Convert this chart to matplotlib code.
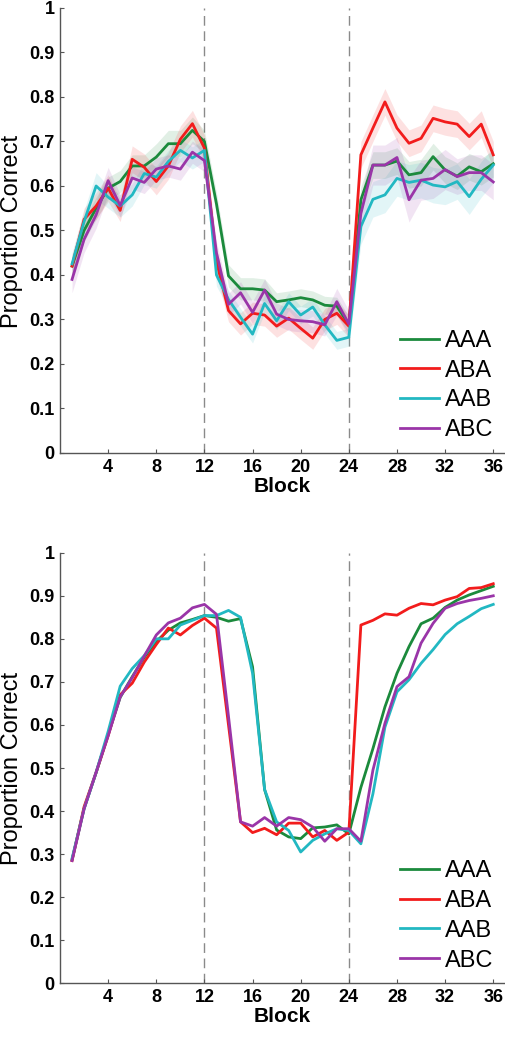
import numpy as np
import matplotlib
matplotlib.use('Agg')
import matplotlib.pyplot as plt

plt.rcParams['font.family'] = ['Liberation Sans', 'DejaVu Sans']

# 數據
blocks = np.arange(1, 37)
conditions = ['AAA', 'ABA', 'AAB', 'ABC']
colors = ['#1b8a3c', '#f21c1c', '#22b8c2', '#9a35a8']

# 上圖: 平均值
top_aaa = [0.42, 0.50, 0.55, 0.595, 0.61, 0.645, 0.645, 0.665, 0.695, 0.695, 0.725, 0.70,
           0.56, 0.398, 0.369, 0.369, 0.366, 0.34, 0.344, 0.349, 0.344, 0.332, 0.330, 0.288,
           0.569, 0.647, 0.647, 0.656, 0.625, 0.630, 0.666, 0.636, 0.622, 0.643, 0.632, 0.650]
top_aba = [0.42, 0.525, 0.555, 0.595, 0.545, 0.66, 0.642, 0.61, 0.645, 0.705, 0.74, 0.685,
           0.43, 0.32, 0.29, 0.314, 0.31, 0.285, 0.303, 0.28, 0.258, 0.30, 0.314, 0.285,
           0.67, 0.73, 0.789, 0.73, 0.696, 0.707, 0.752, 0.744, 0.739, 0.711, 0.739, 0.670]
top_aab = [0.425, 0.52, 0.60, 0.575, 0.555, 0.58, 0.628, 0.62, 0.655, 0.68, 0.663, 0.68,
           0.40, 0.345, 0.305, 0.267, 0.336, 0.297, 0.34, 0.31, 0.328, 0.288, 0.253, 0.26,
           0.509, 0.57, 0.58, 0.617, 0.608, 0.613, 0.602, 0.598, 0.61, 0.576, 0.615, 0.647]
top_abc = [0.39, 0.48, 0.535, 0.612, 0.556, 0.618, 0.608, 0.638, 0.645, 0.638, 0.676, 0.657,
           0.45, 0.334, 0.36, 0.316, 0.366, 0.312, 0.30, 0.297, 0.295, 0.288, 0.34, 0.29,
           0.538, 0.647, 0.647, 0.664, 0.569, 0.613, 0.617, 0.637, 0.621, 0.630, 0.630, 0.609]

# 上圖: 標準誤 (陰影半寬)
top_aaa_se = [0.025, 0.025, 0.025, 0.025, 0.025, 0.025, 0.025, 0.03, 0.03, 0.03, 0.03, 0.025,
              0.025, 0.025, 0.025, 0.025, 0.025, 0.02, 0.02, 0.02, 0.02, 0.02, 0.02, 0.02,
              0.03, 0.03, 0.03, 0.03, 0.03, 0.03, 0.03, 0.03, 0.03, 0.03, 0.03, 0.03]
top_aba_se = [0.025, 0.025, 0.03, 0.03, 0.025, 0.03, 0.03, 0.03, 0.03, 0.03, 0.03, 0.03,
              0.03, 0.025, 0.025, 0.025, 0.025, 0.025, 0.025, 0.025, 0.025, 0.025, 0.025, 0.025,
              0.03, 0.03, 0.03, 0.03, 0.03, 0.03, 0.03, 0.03, 0.03, 0.03, 0.03, 0.03]
top_aab_se = [0.025, 0.025, 0.03, 0.025, 0.025, 0.025, 0.025, 0.025, 0.025, 0.025, 0.025, 0.025,
              0.025, 0.02, 0.02, 0.02, 0.02, 0.02, 0.02, 0.02, 0.02, 0.02, 0.02, 0.02,
              0.04, 0.04, 0.04, 0.04, 0.04, 0.04, 0.04, 0.04, 0.04, 0.04, 0.04, 0.04]
top_abc_se = [0.03, 0.03, 0.03, 0.03, 0.025, 0.025, 0.025, 0.025, 0.025, 0.025, 0.025, 0.025,
              0.025, 0.025, 0.025, 0.025, 0.025, 0.025, 0.025, 0.025, 0.025, 0.025, 0.03, 0.03,
              0.04, 0.045, 0.045, 0.045, 0.05, 0.045, 0.045, 0.045, 0.04, 0.04, 0.04, 0.04]

# 下圖: 平均值
bot_aaa = [0.287, 0.406, 0.489, 0.578, 0.664, 0.712, 0.757, 0.794, 0.82, 0.837, 0.845, 0.854,
           0.85, 0.841, 0.847, 0.735, 0.45, 0.356, 0.34, 0.336, 0.361, 0.363, 0.368, 0.347,
           0.455, 0.545, 0.642, 0.72, 0.782, 0.835, 0.848, 0.873, 0.89, 0.902, 0.912, 0.922]
bot_aba = [0.285, 0.41, 0.49, 0.575, 0.67, 0.697, 0.746, 0.787, 0.825, 0.809, 0.831, 0.848,
           0.825, 0.60, 0.375, 0.35, 0.36, 0.345, 0.372, 0.372, 0.34, 0.355, 0.332, 0.351,
           0.832, 0.843, 0.858, 0.855, 0.871, 0.882, 0.879, 0.89, 0.898, 0.917, 0.919, 0.928]
bot_aab = [0.29, 0.405, 0.49, 0.585, 0.69, 0.731, 0.761, 0.80, 0.80, 0.832, 0.843, 0.854,
           0.854, 0.866, 0.85, 0.72, 0.45, 0.375, 0.355, 0.305, 0.332, 0.347, 0.359, 0.355,
           0.324, 0.44, 0.595, 0.677, 0.705, 0.743, 0.775, 0.81, 0.835, 0.852, 0.87, 0.88]
bot_abc = [0.285, 0.405, 0.49, 0.575, 0.665, 0.71, 0.76, 0.809, 0.837, 0.848, 0.872, 0.88,
           0.857, 0.62, 0.375, 0.365, 0.385, 0.365, 0.385, 0.38, 0.363, 0.33, 0.359, 0.359,
           0.33, 0.495, 0.604, 0.689, 0.712, 0.79, 0.836, 0.871, 0.882, 0.889, 0.894, 0.90]

top_means = [top_aaa, top_aba, top_aab, top_abc]
top_errs = [top_aaa_se, top_aba_se, top_aab_se, top_abc_se]
bot_means = [bot_aaa, bot_aba, bot_aab, bot_abc]

phase_edges = [12, 24]
xtick_vals = np.arange(4, 37, 4)
ytick_vals = np.round(np.arange(0, 1.01, 0.1), 1)
ytick_labels = ['0'] + [f'{v:.1f}' for v in ytick_vals[1:-1]] + ['1']


def style_axis(ax):
    ax.set_xlim(0, 37)
    ax.set_ylim(0, 1)
    for s in ['top', 'right']:
        ax.spines[s].set_visible(False)
    for s in ['left', 'bottom']:
        ax.spines[s].set_color('#555555')
        ax.spines[s].set_linewidth(1.0)
    ax.set_xticks(xtick_vals)
    ax.set_yticks(ytick_vals)
    ax.set_yticklabels(ytick_labels)
    ax.tick_params(direction='in', length=3, color='#555555', pad=4)
    for lab in ax.get_xticklabels() + ax.get_yticklabels():
        lab.set_fontweight('bold')
        lab.set_fontsize(13)
    for xe in phase_edges:
        ax.plot([xe, xe], [0, 1], color='#8a8a8a', lw=1.0, dashes=(7, 4), zorder=1)
    ax.set_xlabel('Block', fontsize=15, fontweight='bold', labelpad=1)
    ax.legend(loc='lower right', frameon=False, fontsize=17, handlelength=1.65,
              handletextpad=0.25, labelspacing=0.33, borderaxespad=0.1,
              bbox_to_anchor=(1.0, 0.0))


fig = plt.figure(figsize=(5.06, 10.5), dpi=100)
ax1 = fig.add_axes([0.1186, 0.5686, 0.880, 0.4238])
ax2 = fig.add_axes([0.1186, 0.0635, 0.880, 0.4101])

# 上圖: 平均值與陰影
for m, e, c, name in zip(top_means, top_errs, colors, conditions):
    m = np.array(m)
    e = np.array(e)
    ax1.fill_between(blocks, m - e, m + e, color=c, alpha=0.13, lw=0, zorder=2)
for m, c, name in zip(top_means, colors, conditions):
    ax1.plot(blocks, m, color=c, lw=2.0, label=name, zorder=3)
style_axis(ax1)

# 下圖
for m, c, name in zip(bot_means, colors, conditions):
    ax2.plot(blocks, m, color=c, lw=2.0, label=name, zorder=3)
style_axis(ax2)

# y 軸標籤
fig.text(12 / 506, 1 - 231 / 1050, 'Proportion Correct', rotation=90,
         ha='center', va='center', fontsize=17)
fig.text(12 / 506, 1 - 768 / 1050, 'Proportion Correct', rotation=90,
         ha='center', va='center', fontsize=17)

fig.savefig('out.png', dpi=100)
